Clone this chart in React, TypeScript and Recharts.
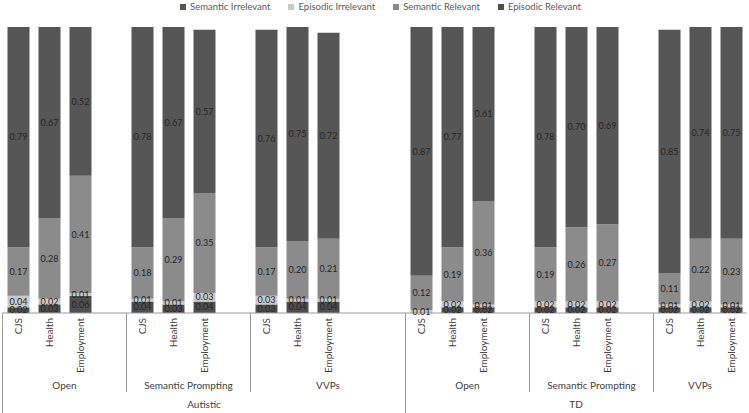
import React from 'react';
import { BarChart, Bar, XAxis, YAxis, LabelList } from 'recharts';

const groups = ['Autistic', 'TD'];
const conditions = ['Open', 'Semantic Prompting', 'VVPs'];
const categories = ['CJS', 'Health', 'Employment'];

// one value per bar: Autistic (Open, SP, VVPs) then TD (Open, SP, VVPs), CJS/Health/Employment each
const semanticIrrelevant = [0.79, 0.67, 0.52, 0.78, 0.67, 0.57, 0.76, 0.75, 0.72, 0.87, 0.77, 0.61, 0.78, 0.70, 0.69, 0.85, 0.74, 0.75];
const episodicIrrelevant = [0.04, 0.02, 0.01, 0.01, 0.01, 0.03, 0.03, 0.01, 0.01, 0.01, 0.02, 0.01, 0.02, 0.02, 0.02, 0.01, 0.02, 0.01];
const semanticRelevant = [0.17, 0.28, 0.41, 0.18, 0.29, 0.35, 0.17, 0.20, 0.21, 0.12, 0.19, 0.36, 0.19, 0.26, 0.27, 0.11, 0.22, 0.23];
const episodicRelevant = [0.02, 0.03, 0.06, 0.04, 0.03, 0.04, 0.03, 0.04, 0.04, 0.00, 0.02, 0.02, 0.02, 0.02, 0.02, 0.02, 0.02, 0.02];

// empty slots after each condition block (blank rows in the source sheet)
const blanks = [[1, 1, 2], [1, 1, 0]];

const SERIES = [
  { key: 'er', name: 'Episodic Relevant', color: '#4e4e4e' },
  { key: 'ei', name: 'Episodic Irrelevant', color: '#c9c9c9' },
  { key: 'sr', name: 'Semantic Relevant', color: '#8b8b8b' },
  { key: 'si', name: 'Semantic Irrelevant', color: '#565656' },
];
const LEGEND_ORDER = ['si', 'ei', 'sr', 'er'];

const W = 749;
const H = 413;
const PLOT_TOP = 27;
const AXIS_H = 100;
const PLOT_BOTTOM = H - AXIS_H;
const FONT = 'Lato, "Open Sans", sans-serif';

type Row = {
  id: string;
  cat: string;
  si?: number;
  ei?: number;
  sr?: number;
  er?: number;
  cond?: string;
  condSpan?: number;
  group?: string;
  groupSpan?: number;
};

const rows: Row[] = [];
let n = 0;
groups.forEach((g, gi) => {
  const gStart = rows.length;
  conditions.forEach((c, ci) => {
    const cStart = rows.length;
    categories.forEach((cat) => {
      rows.push({
        id: `${g}-${c}-${cat}`,
        cat,
        si: semanticIrrelevant[n],
        ei: episodicIrrelevant[n],
        sr: semanticRelevant[n],
        er: episodicRelevant[n],
      });
      n++;
    });
    for (let b = 0; b < blanks[gi][ci]; b++) rows.push({ id: `${g}-${c}-blank${b}`, cat: '' });
    rows[cStart].cond = c;
    rows[cStart].condSpan = rows.length - cStart;
  });
  rows[gStart].group = g;
  rows[gStart].groupSpan = rows.length - gStart;
});

const fmt = (v: any) => (typeof v === 'number' ? v.toFixed(2) : '');

function AxisTick(props: any) {
  const { x, payload } = props;
  const row = rows.find((r) => r.id === payload.value);
  if (!row) return null;
  const half = payload.offset ?? (W - 5) / rows.length / 2;
  const left = x - half;
  const ty = PLOT_BOTTOM + 5;
  return (
    <g>
      {row.cat && (
        <text
          x={x}
          y={ty}
          transform={`rotate(-90 ${x} ${ty})`}
          textAnchor="end"
          dy="0.35em"
          fontSize={10}
          fontFamily={FONT}
          fill="#404040"
        >
          {row.cat}
        </text>
      )}
      {row.cond && (
        <>
          <line x1={left} x2={left} y1={PLOT_BOTTOM} y2={row.group ? H : 392} stroke="#9a9a9a" strokeWidth={1} />
          <text x={left + (row.condSpan as number) * half} y={385} textAnchor="middle" dy="0.35em" fontSize={10} fontFamily={FONT} fill="#404040">
            {row.cond}
          </text>
        </>
      )}
      {row.group && (
        <text x={left + (row.groupSpan as number) * half} y={404} textAnchor="middle" dy="0.35em" fontSize={10} fontFamily={FONT} fill="#404040">
          {row.group}
        </text>
      )}
    </g>
  );
}

export default function App() {
  return (
    <div style={{ position: 'absolute', left: 0, top: 0, width: W, height: H, background: '#fff', fontFamily: FONT }}>
      <div
        style={{
          position: 'absolute',
          top: 0,
          left: 0,
          width: W,
          height: 13,
          display: 'flex',
          justifyContent: 'center',
          alignItems: 'center',
          gap: 18,
          paddingLeft: 12,
          boxSizing: 'border-box',
          fontSize: 9.5,
          color: '#595959',
        }}
      >
        {LEGEND_ORDER.map((k) => {
          const s = SERIES.find((x) => x.key === k)!;
          return (
            <div key={k} style={{ display: 'flex', alignItems: 'center', gap: 4 }}>
              <span style={{ width: 6, height: 6, background: s.color, display: 'inline-block' }} />
              <span>{s.name}</span>
            </div>
          );
        })}
      </div>
      <BarChart width={W} height={H} data={rows} margin={{ top: PLOT_TOP, right: 2.5, bottom: 0, left: 2.5 }} barSize={22}>
        <YAxis hide domain={[0, 1]} allowDataOverflow type="number" />
        <XAxis
          dataKey="id"
          type="category"
          height={AXIS_H}
          interval={0}
          tickLine={false}
          axisLine={{ stroke: '#9a9a9a' }}
          tick={<AxisTick />}
        />
        {SERIES.map((s) => (
          <Bar key={s.key} dataKey={s.key} name={s.name} stackId="a" fill={s.color} isAnimationActive={false}>
            <LabelList dataKey={s.key} position="center" formatter={fmt} fill="#262626" fontSize={9} fontFamily={FONT} />
          </Bar>
        ))}
      </BarChart>
    </div>
  );
}
